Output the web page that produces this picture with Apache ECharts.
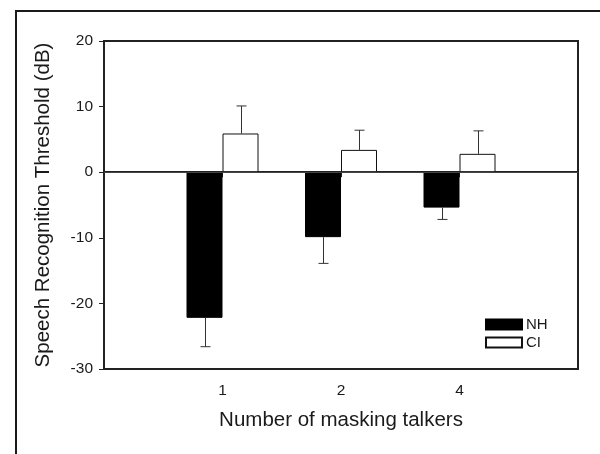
<!DOCTYPE html>
<html>
<head>
<meta charset="utf-8">
<script src="https://cdn.jsdelivr.net/npm/echarts@6/dist/echarts.min.js"></script>
<style>
html,body{margin:0;padding:0;background:#fff;}
#chart{width:600px;height:454px;}
</style>
</head>
<body>
<div id="chart"></div>
<script>
// ---- data ----
var categories = ['1', '2', '4'];
var nhValues = [-22.2, -9.9, -5.4];
var nhErrors = [4.4, 4.0, 1.8];
var ciValues = [5.9, 3.4, 2.8];
var ciErrors = [4.2, 3.0, 3.5];
var yTicks = [-30, -20, -10, 0, 10, 20];

// ---- build ----
var BAR_W = 36;
var CAP = 5;
var FONT = '"Liberation Sans", Arial, sans-serif';
var TXT = '#1a1a1a';

var axisCats = [''].concat(categories).concat(['']);
function pad(arr) { return [null].concat(arr).concat([null]); }

function errData(vals, errs) {
  return vals.map(function (v, i) { return [i + 1, v, errs[i]]; });
}

function makeErrRender(offset) {
  return function (params, api) {
    var idx = api.value(0), v = api.value(1), e = api.value(2);
    var sign = v >= 0 ? 1 : -1;
    var p0 = api.coord([idx, v]);
    var p1 = api.coord([idx, v + sign * e]);
    var x = Math.round(p0[0] + offset) + 0.5;
    var style = { stroke: '#333', lineWidth: 1 };
    return {
      type: 'group',
      children: [
        { type: 'line', shape: { x1: x, y1: p0[1], x2: x, y2: p1[1] }, style: style },
        { type: 'line', shape: { x1: x - CAP, y1: p1[1], x2: x + CAP, y2: p1[1] }, style: style }
      ]
    };
  };
}

var chart = echarts.init(document.getElementById('chart'), null, { renderer: 'canvas' });
chart.setOption({
  animation: false,
  backgroundColor: '#fff',
  textStyle: { fontFamily: FONT },
  grid: {
    left: 104, right: 22, top: 41, bottom: 85,
    show: true, borderColor: '#222', borderWidth: 2, backgroundColor: 'transparent'
  },
  legend: {
    orient: 'vertical',
    left: 480, top: 312,
    itemWidth: 36, itemHeight: 10, itemGap: 3,
    icon: 'rect',
    textStyle: { fontFamily: FONT, fontSize: 15, color: TXT, padding: [0, 0, 0, -1] },
    data: ['NH', 'CI']
  },
  xAxis: {
    type: 'category',
    data: axisCats,
    boundaryGap: false,
    name: 'Number of masking talkers',
    nameLocation: 'middle',
    nameGap: 41,
    nameTextStyle: { fontFamily: FONT, fontSize: 20.5, color: TXT },
    axisLine: { lineStyle: { color: '#222', width: 2 } },
    axisTick: {
      alignWithLabel: true, length: 5,
      interval: function (i) { return i >= 1 && i <= categories.length; },
      lineStyle: { color: '#222', width: 1 }
    },
    axisLabel: {
      interval: function (i) { return i >= 1 && i <= categories.length; },
      fontFamily: FONT, fontSize: 15.5, color: TXT, margin: 14
    },
    splitLine: { show: false }
  },
  yAxis: {
    type: 'value',
    min: yTicks[0], max: yTicks[yTicks.length - 1], interval: 10,
    name: 'Speech Recognition Threshold (dB)',
    nameLocation: 'middle',
    nameGap: 50,
    nameTextStyle: { fontFamily: FONT, fontSize: 20.5, color: TXT },
    axisLine: { show: true, onZero: false, lineStyle: { color: '#222', width: 2 } },
    axisTick: { show: true, length: 5, lineStyle: { color: '#222', width: 1 } },
    axisLabel: { fontFamily: FONT, fontSize: 15.5, color: TXT, margin: 11 },
    splitLine: { show: false }
  },
  series: [
    {
      name: 'NH', type: 'bar', data: pad(nhValues),
      barWidth: BAR_W, barGap: '0%',
      itemStyle: { color: '#000', borderColor: '#000', borderWidth: 1 },
      markLine: {
        silent: true, symbol: 'none', label: { show: false },
        lineStyle: { color: '#444', width: 1, type: 'solid' },
        data: [{ yAxis: 0 }]
      },
      z: 2
    },
    {
      name: 'CI', type: 'bar', data: pad(ciValues),
      barWidth: BAR_W, barGap: '0%',
      itemStyle: { color: '#fff', borderColor: '#111', borderWidth: 1 },
      z: 2
    },
    {
      name: 'NH err', type: 'custom', data: errData(nhValues, nhErrors),
      renderItem: makeErrRender(-BAR_W / 2), z: 3, silent: true
    },
    {
      name: 'CI err', type: 'custom', data: errData(ciValues, ciErrors),
      renderItem: makeErrRender(BAR_W / 2), z: 3, silent: true
    }
  ],
  graphic: [
    {
      type: 'polyline',
      shape: { points: [[16, 454], [16, 11], [600, 11]] },
      style: { stroke: '#1a1a1a', lineWidth: 2, fill: null }
    }
  ]
});
</script>
</body>
</html>
